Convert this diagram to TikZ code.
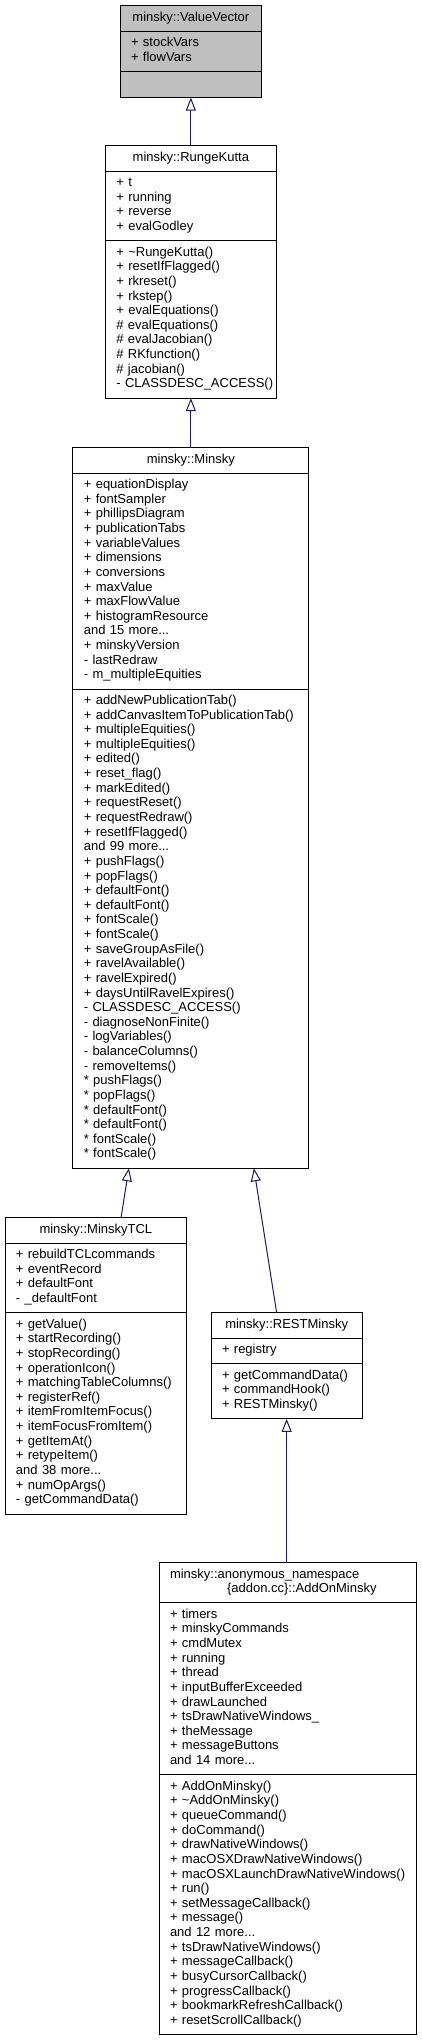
\documentclass[tikz,border=0pt]{standalone}
\usepackage{fontspec}
\setmainfont{Liberation Sans}
\usepackage{xcolor}
\usepackage{tikz}
\usetikzlibrary{arrows.meta,calc,positioning}
\definecolor{navy}{HTML}{191970}
\definecolor{headgray}{HTML}{BFBFBF}
\newcommand{\classfont}{\fontsize{13pt}{14.63pt}\selectfont}
\newcommand{\rowstrut}{\rule[-4.8pt]{0pt}{14.63pt}}

\begin{document}
\begin{tikzpicture}[x=1pt,y=-1pt,
  cls/.style={draw=black,line width=1pt,fill=white,outer sep=0pt,inner xsep=11pt,inner ysep=5.5pt,
    text width=#1-22pt,font=\classfont,align=left,
    execute at begin node={\exhyphenpenalty=10000\hyphenpenalty=10000\rowstrut},execute at end node=\rowstrut},
  head/.style={cls=#1,align=center},
  inherit/.style={draw=navy,line width=1pt,-{Triangle[open,length=13pt,width=10pt]}}]
  \useasboundingbox (0,0) rectangle (421,2041);
  % minsky::ValueVector
  \node[head=141.7pt,fill=headgray,anchor=north] (vv) at (190.85,6) {minsky::ValueVector};
  \node[cls=141.7pt,fill=headgray,below=0pt of vv] (vv-attr) {+~stockVars\\+~flowVars};
  \node[cls=141.7pt,fill=headgray,below=0pt of vv-attr] (vv-ops) {};
  % minsky::RungeKutta
  \node[head=171pt,below=48.2pt of vv-ops] (rk) {minsky::RungeKutta};
  \node[cls=171pt,below=0pt of rk] (rk-attr) {+~t\\+~running\\+~reverse\\+~evalGodley};
  \node[cls=171pt,below=0pt of rk-attr] (rk-ops) {+~\textasciitilde RungeKutta()\\+~resetIfFlagged()\\+~rkreset()\\+~rkstep()\\+~evalEquations()\\\#~evalEquations()\\\#~evalJacobian()\\\#~RKfunction()\\\#~jacobian()\\-~CLASSDESC\_ACCESS()};
  % minsky::Minsky
  \node[head=236pt,below=49.5pt of rk-ops] (minsky) {minsky::Minsky};
  \node[cls=236pt,below=0pt of minsky] (minsky-attr) {+~equationDisplay\\+~fontSampler\\+~phillipsDiagram\\+~publicationTabs\\+~variableValues\\+~dimensions\\+~conversions\\+~maxValue\\+~maxFlowValue\\+~histogramResource\\and 15 more...\\+~minskyVersion\\-~lastRedraw\\-~m\_multipleEquities};
  \node[cls=236pt,below=0pt of minsky-attr] (minsky-ops) {+~addNewPublicationTab()\\+~addCanvasItemToPublicationTab()\\+~multipleEquities()\\+~multipleEquities()\\+~edited()\\+~reset\_flag()\\+~markEdited()\\+~requestReset()\\+~requestRedraw()\\+~resetIfFlagged()\\and 99 more...\\+~pushFlags()\\+~popFlags()\\+~defaultFont()\\+~defaultFont()\\+~fontScale()\\+~fontScale()\\+~saveGroupAsFile()\\+~ravelAvailable()\\+~ravelExpired()\\+~daysUntilRavelExpires()\\-~CLASSDESC\_ACCESS()\\-~diagnoseNonFinite()\\-~logVariables()\\-~balanceColumns()\\-~removeItems()\\{*}~pushFlags()\\{*}~popFlags()\\{*}~defaultFont()\\{*}~defaultFont()\\{*}~fontScale()\\{*}~fontScale()};
  % minsky::MinskyTCL
  \node[head=181.7pt,anchor=north] (tcl) at (95.85,1217.7) {minsky::MinskyTCL};
  \node[cls=181.7pt,below=0pt of tcl] (tcl-attr) {+~rebuildTCLcommands\\+~eventRecord\\+~defaultFont\\-~\_defaultFont};
  \node[cls=181.7pt,below=0pt of tcl-attr] (tcl-ops) {+~getValue()\\+~startRecording()\\+~stopRecording()\\+~operationIcon()\\+~matchingTableColumns()\\+~registerRef()\\+~itemFromItemFocus()\\+~itemFocusFromItem()\\+~getItemAt()\\+~retypeItem()\\and 38 more...\\+~numOpArgs()\\-~getCommandData()};
  % minsky::RESTMinsky
  \node[head=151.3pt,anchor=north] (rest) at (286.65,1312.7) {minsky::RESTMinsky};
  \node[cls=151.3pt,below=0pt of rest] (rest-attr) {+~registry};
  \node[cls=151.3pt,below=0pt of rest-attr] (rest-ops) {+~getCommandData()\\+~commandHook()\\+~RESTMinsky()};
  % AddOnMinsky
  \node[head=257.7pt,align=left,anchor=north] (addon) at (287.85,1562.7) {minsky::anonymous\_namespace\\\hspace*{57pt}\{addon.cc\}::AddOnMinsky};
  \node[cls=257.7pt,below=0pt of addon] (addon-attr) {+~timers\\+~minskyCommands\\+~cmdMutex\\+~running\\+~thread\\+~inputBufferExceeded\\+~drawLaunched\\+~tsDrawNativeWindows\_\\+~theMessage\\+~messageButtons\\and 14 more...};
  \node[cls=257.7pt,below=0pt of addon-attr] (addon-ops) {+~AddOnMinsky()\\+~\textasciitilde AddOnMinsky()\\+~queueCommand()\\+~doCommand()\\+~drawNativeWindows()\\+~macOSXDrawNativeWindows()\\+~macOSXLaunchDrawNativeWindows()\\+~run()\\+~setMessageCallback()\\+~message()\\and 12 more...\\+~tsDrawNativeWindows()\\+~messageCallback()\\+~busyCursorCallback()\\+~progressCallback()\\+~bookmarkRefreshCallback()\\+~resetScrollCallback()};
  % inheritance
  \draw[inherit] (rk.north) -- (vv-ops.south);
  \draw[inherit] (minsky.north) -- (rk-ops.south);
  \draw[inherit] ([xshift=25.2pt]tcl.north) -- ([xshift=-62pt]minsky-ops.south);
  \draw[inherit] ([xshift=-10pt]rest.north) -- ([xshift=63pt]minsky-ops.south);
  \draw[inherit] (addon.north -| rest-ops.south) -- (rest-ops.south);
\end{tikzpicture}
\end{document}
